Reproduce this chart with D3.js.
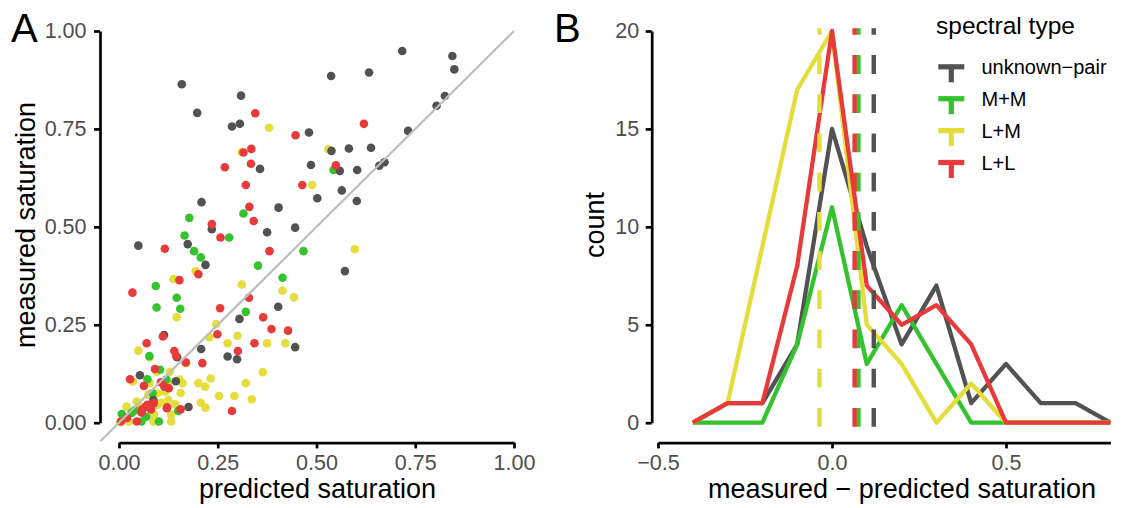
<!DOCTYPE html>
<html><head><meta charset="utf-8">
<script src="https://cdn.jsdelivr.net/npm/d3@7"></script>
<style>
html,body{margin:0;padding:0;background:#fff;}
svg{display:block;font-family:"Liberation Sans",Arial,Helvetica,sans-serif;}
</style></head><body>
<svg id="chart" width="1134" height="508"></svg>
<script>
// ---------------- DATA ----------------
const categories = ["unknown-pair", "M+M", "L+M", "L+L"];
const categoryLabels = ["unknown\u2212pair", "M+M", "L+M", "L+L"];
const categoryColors = ["#525252", "#35c22f", "#e5dd3b", "#e73a3a"];

// panel A: [predicted, measured]
const pointsUnknownPair = [
  [0.717,0.949],[0.844,0.936],[0.849,0.902],[0.537,0.885],[0.633,0.894],[0.159,0.864],
  [0.309,0.835],[0.198,0.791],[0.286,0.756],[0.306,0.763],[0.825,0.834],[0.804,0.809],
  [0.732,0.745],[0.481,0.741],[0.538,0.694],[0.582,0.700],[0.638,0.702],[0.486,0.658],
  [0.357,0.648],[0.559,0.643],[0.603,0.645],[0.659,0.656],[0.672,0.665],[0.564,0.593],
  [0.502,0.573],[0.602,0.566],[0.209,0.563],[0.404,0.549],[0.235,0.494],[0.375,0.486],
  [0.446,0.498],[0.049,0.452],[0.174,0.456],[0.219,0.403],[0.572,0.387],[0.403,0.296],
  [0.305,0.265],[0.114,0.224],[0.208,0.188],[0.446,0.193],[0.275,0.169],[0.299,0.162],
  [0.147,0.167],[0.053,0.121],[0.144,0.106],[0.087,0.058],[0.176,0.040]
];
const pointsMM = [
  [0.178,0.523],[0.166,0.478],[0.190,0.438],[0.207,0.422],[0.315,0.534],[0.279,0.473],
  [0.467,0.438],[0.352,0.401],[0.414,0.370],[0.543,0.645],[0.093,0.349],[0.146,0.319],
  [0.095,0.294],[0.155,0.291],[0.321,0.283],[0.077,0.170],[0.104,0.135],[0.072,0.111],
  [0.007,0.022],[0.101,0.003],[0.150,0.030],[0.040,0.032],[0.032,0.025],[0.085,0.075],
  [0.120,0.110],[0.069,0.015],[0.057,0.003]
];
const pointsLM = [
  [0.380,0.753],[0.530,0.698],[0.489,0.607],[0.597,0.443],[0.194,0.387],[0.138,0.367],
  [0.311,0.353],[0.414,0.337],[0.443,0.320],[0.146,0.269],[0.246,0.252],[0.300,0.222],
  [0.229,0.218],[0.275,0.203],[0.375,0.203],[0.421,0.203],[0.049,0.184],[0.077,0.167],
  [0.170,0.152],[0.364,0.129],[0.232,0.113],[0.201,0.101],[0.218,0.092],[0.321,0.101],
  [0.156,0.076],[0.253,0.068],[0.292,0.068],[0.336,0.060],[0.207,0.051],[0.219,0.038],
  [0.132,0.020],[0.132,0.003],[0.087,0.003],[0.025,0.003],[0.003,0.002],[0.161,0.101],
  [0.125,0.101],[0.142,0.047],[0.106,0.051],[0.045,0.054],[0.087,0.075],[0.311,0.691],
  [0.036,0.028],[0.098,0.075],[0.078,0.101],[0.116,0.079],[0.019,0.041],[0.053,0.041],
  [0.074,0.071],[0.011,0.016],[0.095,0.130],[0.129,0.130],[0.153,0.110],[0.097,0.045],
  [0.089,0.020],[0.125,0.058],[0.035,0.105]
];
const pointsLL = [
  [0.345,0.790],[0.620,0.763],[0.447,0.734],[0.335,0.699],[0.315,0.690],[0.334,0.661],
  [0.268,0.652],[0.549,0.657],[0.464,0.607],[0.321,0.607],[0.330,0.551],[0.235,0.507],
  [0.341,0.515],[0.257,0.473],[0.116,0.444],[0.381,0.438],[0.201,0.379],[0.153,0.364],
  [0.034,0.332],[0.329,0.319],[0.256,0.292],[0.365,0.269],[0.386,0.239],[0.428,0.235],
  [0.249,0.226],[0.111,0.220],[0.343,0.203],[0.070,0.203],[0.301,0.183],[0.140,0.183],
  [0.145,0.170],[0.169,0.154],[0.211,0.152],[0.091,0.137],[0.028,0.111],[0.063,0.094],
  [0.106,0.103],[0.126,0.088],[0.286,0.030],[0.156,0.034],[0.121,0.037],[0.005,0.003],
  [0.045,0.003],[0.057,0.026],[0.068,0.041],[0.072,0.046],[0.081,0.034],[0.059,0.034],
  [0.122,0.039],[0.115,0.092],[0.020,0.012],[0.088,0.050]
];

// panel B: frequency polygons (binwidth 0.1)
const binCenters = [-0.4,-0.3,-0.2,-0.1,0,0.1,0.2,0.3,0.4,0.5,0.6,0.7,0.8];
const countsUnknownPair = [0,1,1,4,15,9,4,7,1,3,1,1,0];
const countsMM          = [0,0,0,4,11,3,6,3,0,0,0,0,0];
const countsLM          = [0,1,9,17,20,5,3,0,2,0,0,0,0];
const countsLL          = [0,1,1,8,20,7,5,6,4,0,0,0,0];
const meanDifference    = [0.120, 0.076, -0.036, 0.065];

const ticksA = [0, 0.25, 0.5, 0.75, 1];
const tickLabelsA = ["0.00","0.25","0.50","0.75","1.00"];
const ticksBx = [-0.5, 0, 0.5];
const tickLabelsBx = ["\u22120.5","0.0","0.5"];
const ticksBy = [0, 5, 10, 15, 20];
const tickLabelsBy = ["0","5","10","15","20"];

// ---------------- DRAW ----------------
const svg = d3.select("#chart");
svg.append("rect").attr("width",1134).attr("height",508).attr("fill","#fff");

const TICK_FONT = 21.5, TITLE_FONT = 27;
const tickColor = "#4d4d4d";

function styleAxis(g) {
  g.select(".domain").attr("stroke","#000").attr("stroke-width",2.7);
  g.selectAll(".tick line").attr("stroke","#000").attr("stroke-width",2.7);
  g.selectAll(".tick text").attr("fill",tickColor).style("font-size",TICK_FONT+"px")
    .style("font-family",'"Liberation Sans",Arial,Helvetica,sans-serif');
}

// ----- Panel A -----
const xA = d3.scaleLinear().domain([0,1]).range([119,514]);
const yA = d3.scaleLinear().domain([0,1]).range([422.7,31]);

const seriesPoints = [pointsUnknownPair, pointsMM, pointsLM, pointsLL];
const drawOrder = [2, 1, 0, 3];
const gPts = svg.append("g");
drawOrder.forEach(i => {
  gPts.selectAll(null).data(seriesPoints[i]).enter().append("circle")
    .attr("cx", d => xA(d[0])).attr("cy", d => yA(d[1]))
    .attr("r", 4.3).attr("fill", categoryColors[i]);
});

// identity line, clipped to panel
svg.append("clipPath").attr("id","clipA").append("rect")
  .attr("x", xA(-0.048)).attr("y", yA(1.01))
  .attr("width", xA(1.0) - xA(-0.048)).attr("height", yA(-0.048) - yA(1.01));
const identity = [-0.2, 1.2];
svg.append("path").attr("clip-path","url(#clipA)")
  .attr("d", d3.line().x(d => xA(d)).y(d => yA(d))(identity))
  .attr("stroke","#bebebe").attr("stroke-width",2.2).attr("fill","none");

const axAx = svg.append("g").attr("transform","translate(0,442.7)")
  .call(d3.axisBottom(xA).tickValues(ticksA).tickFormat((d,i)=>tickLabelsA[i])
    .tickSize(5.7).tickSizeOuter(0).tickPadding(6.5));
styleAxis(axAx);
const axAy = svg.append("g").attr("transform","translate(100,0)")
  .call(d3.axisLeft(yA).tickValues(ticksA).tickFormat((d,i)=>tickLabelsA[i])
    .tickSize(6).tickSizeOuter(0).tickPadding(7.5));
styleAxis(axAy);

svg.append("text").attr("x",317.5).attr("y",498).attr("text-anchor","middle")
  .style("font-size",TITLE_FONT+"px").text("predicted saturation");
svg.append("text").attr("transform","translate(35,225) rotate(-90)").attr("text-anchor","middle")
  .style("font-size",TITLE_FONT+"px").text("measured saturation");
svg.append("text").attr("x",11).attr("y",41.7).style("font-size","40px").text("A");

// ----- Panel B -----
const xB = d3.scaleLinear().domain([-0.5,0.8]).range([658,1110.4]);
const yB = d3.scaleLinear().domain([0,20]).range([422.7,31]);
const seriesCounts = [countsUnknownPair, countsMM, countsLM, countsLL];

const lineB = d3.line().x(d => xB(d[0])).y(d => yB(d[1]));
[0,1,2,3].forEach(i => {
  const pts = binCenters.map((b,k) => [b, seriesCounts[i][k]]);
  svg.append("path").attr("d", lineB(pts)).attr("fill","none")
    .attr("stroke", categoryColors[i]).attr("stroke-width",4.3)
    .attr("stroke-linejoin","round");
});
[0,1,2,3].forEach(i => {
  const x = xB(meanDifference[i]);
  svg.append("line").attr("x1",x).attr("x2",x)
    .attr("y1", yB(0)+4).attr("y2", yB(20)-2.7)
    .attr("stroke", categoryColors[i]).attr("stroke-width",4.4)
    .attr("stroke-dasharray","18.8,20.4");
});

const axBx = svg.append("g").attr("transform","translate(0,442.7)")
  .call(d3.axisBottom(xB).tickValues(ticksBx).tickFormat((d,i)=>tickLabelsBx[i])
    .tickSize(5.7).tickSizeOuter(0).tickPadding(6.5));
styleAxis(axBx);
const axBy = svg.append("g").attr("transform","translate(651.7,0)")
  .call(d3.axisLeft(yB).tickValues(ticksBy).tickFormat((d,i)=>tickLabelsBy[i])
    .tickSize(6).tickSizeOuter(0).tickPadding(6.5));
styleAxis(axBy);

svg.append("text").attr("x",902).attr("y",498).attr("text-anchor","middle")
  .style("font-size",TITLE_FONT+"px").text("measured \u2212 predicted saturation");
svg.append("text").attr("transform","translate(604,225) rotate(-90)").attr("text-anchor","middle")
  .style("font-size",TITLE_FONT+"px").text("count");
svg.append("text").attr("x",554).attr("y",41.7).style("font-size","40px").text("B");

// legend
const lg = svg.append("g");
lg.append("text").attr("x",936).attr("y",33.5).style("font-size","24.5px").text("spectral type");
categories.forEach((c,i) => {
  const cy = 66.8 + i*31.9;
  lg.append("line").attr("x1",938.3).attr("x2",964.3).attr("y1",cy).attr("y2",cy)
    .attr("stroke",categoryColors[i]).attr("stroke-width",5.2);
  lg.append("line").attr("x1",951.3).attr("x2",951.3).attr("y1",cy-2).attr("y2",cy+15.5)
    .attr("stroke",categoryColors[i]).attr("stroke-width",5.2);
  lg.append("text").attr("x",981.5).attr("y",cy).attr("dy","0.36em")
    .style("font-size","20px").attr("fill","#000").text(categoryLabels[i]);
});
</script>
</body></html>
